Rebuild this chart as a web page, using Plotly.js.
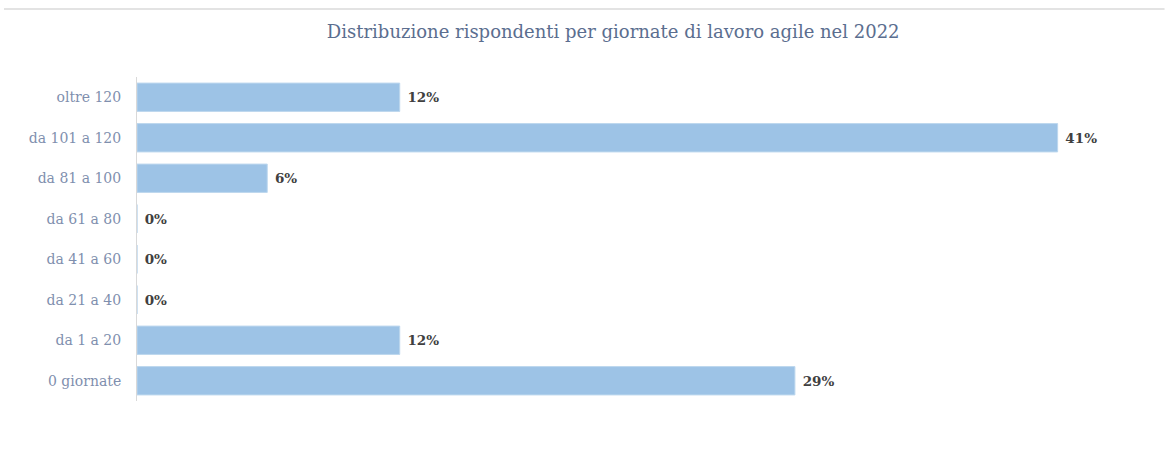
<!DOCTYPE html>
<html>
<head>
<meta charset="utf-8">
<script src="https://cdn.plot.ly/plotly-3.0.1.min.js"></script>
<style>html,body{margin:0;padding:0;background:#fff;}#chart{width:1168px;height:456px;}</style>
</head>
<body>
<div id="chart"></div>
<script>
const categories = ["oltre 120", "da 101 a 120", "da 81 a 100", "da 61 a 80", "da 41 a 60", "da 21 a 40", "da 1 a 20", "0 giornate"];
const values = [11.7, 41.0, 5.8, 0, 0, 0, 11.7, 29.3];
const labels = ["12%", "41%", "6%", "0%", "0%", "0%", "12%", "29%"];

const serif = "DejaVu Serif, Liberation Serif, serif";

const trace = {
  type: "bar",
  orientation: "h",
  y: categories,
  x: values,
  text: labels.map(function (s) { return "\u00a0" + s; }),
  textposition: "outside",
  cliponaxis: false,
  textfont: {family: serif, size: 13.5, color: "#404040", weight: "bold"},
  marker: {color: "#9DC3E6", line: {color: "#BDD7EE", width: 1}},
  width: 0.7,
  hoverinfo: "none"
};

const layout = {
  width: 1168, height: 456,
  margin: {l: 137, r: 43, t: 77, b: 55},
  paper_bgcolor: "#ffffff", plot_bgcolor: "#ffffff",
  showlegend: false,
  title: {
    text: "Distribuzione rispondenti per giornate di lavoro agile nel 2022",
    font: {family: serif, size: 18, color: "#5B6E8F"},
    xref: "container", x: 0.525, xanchor: "center",
    yref: "container", y: 0.93, yanchor: "middle"
  },
  xaxis: {
    range: [0, 44], visible: false, showgrid: false, zeroline: false, fixedrange: true
  },
  yaxis: {
    type: "category", categoryorder: "array", categoryarray: categories,
    autorange: "reversed",
    showline: true, linecolor: "#D9D9D9", linewidth: 1,
    ticks: "", ticklen: 0, showgrid: false, zeroline: false,
    tickfont: {family: serif, size: 14, color: "#7F8FAE"},
    ticklabelstandoff: 12
  },
  shapes: [{
    type: "line", xref: "paper", yref: "paper",
    x0: -0.1346, x1: 1.04, y0: 1.21, y1: 1.21,
    line: {color: "#E3E3E3", width: 2}
  }]
};

Plotly.newPlot("chart", [trace], layout, {displayModeBar: false, staticPlot: true});
</script>
</body>
</html>
